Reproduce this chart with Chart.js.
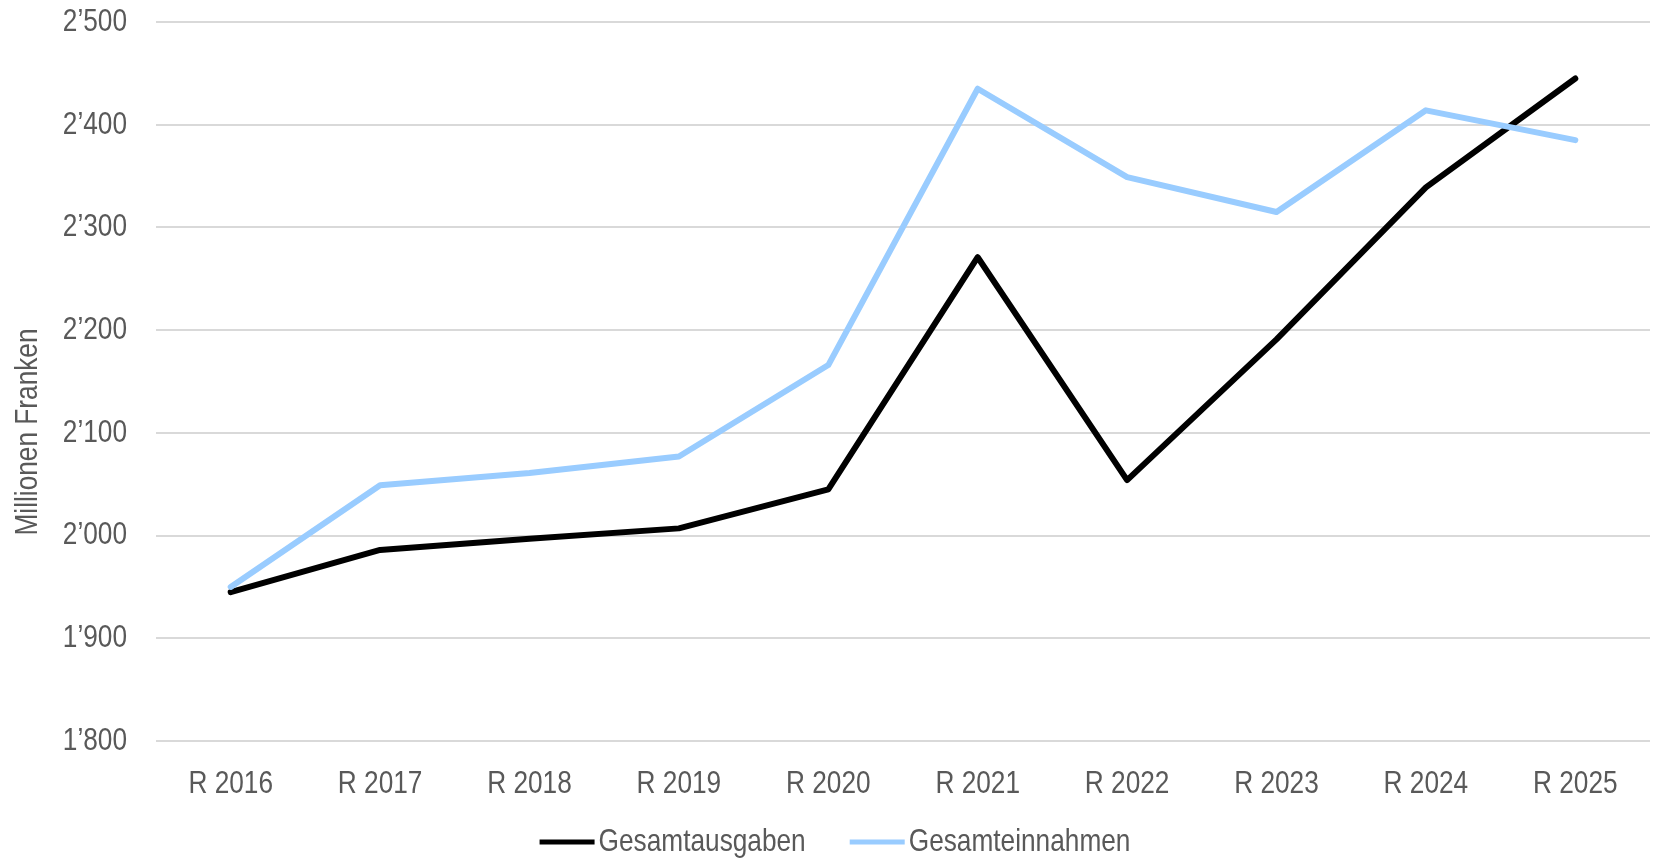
<!DOCTYPE html>
<html>
<head>
<meta charset="utf-8">
<script src="https://cdn.jsdelivr.net/npm/chart.js@4/dist/chart.umd.min.js"></script>
<style>
  html, body { margin: 0; padding: 0; background: #ffffff; }
  #wrap { width: 1653px; height: 859px; }
</style>
</head>
<body>
<div id="wrap"><canvas id="finanzen"></canvas></div>
<script>
var jahre = ['R 2016', 'R 2017', 'R 2018', 'R 2019', 'R 2020', 'R 2021', 'R 2022', 'R 2023', 'R 2024', 'R 2025'];
var gesamtausgaben = [1945, 1986, 1997, 2007, 2045, 2271, 2054, 2191, 2339, 2445];
var gesamteinnahmen = [1950, 2049, 2061, 2077, 2166, 2435, 2349, 2315, 2414, 2385];
var yMin = 1800;
var yMax = 2500;
var yStep = 100;
var yTitel = 'Millionen Franken';

var FONT = "'Liberation Sans', Arial, sans-serif";
var FONT_SIZE = 32;
var SCHMAL = 0.82;   // Arial Narrow fehlt -> Text horizontal stauchen
var GRAU = '#595959';

function formatTausend(v) {
    var s = String(Math.round(v));
    return s.replace(/\B(?=(\d{3})+(?!\d))/g, '\u2019');
}

function schmaleSchrift(ctx) {
    var fill = ctx.fillText;
    var measure = ctx.measureText;
    ctx.fillText = function (t, x, y) {
        this.save();
        this.translate(x, y);
        this.scale(SCHMAL, 1);
        fill.call(this, t, 0, 0);
        this.restore();
    };
    ctx.measureText = function (t) {
        var m = measure.call(this, t);
        return {
            width: m.width * SCHMAL,
            actualBoundingBoxAscent: m.actualBoundingBoxAscent,
            actualBoundingBoxDescent: m.actualBoundingBoxDescent,
            actualBoundingBoxLeft: m.actualBoundingBoxLeft * SCHMAL,
            actualBoundingBoxRight: m.actualBoundingBoxRight * SCHMAL
        };
    };
}

// Achsentitel und Legende von Hand zeichnen (wie im Original platziert)
var beschriftung = {
    id: 'beschriftung',
    afterDraw: function (chart) {
        var ctx = chart.ctx;
        ctx.save();
        ctx.fillStyle = GRAU;
        ctx.font = FONT_SIZE + 'px ' + FONT;

        // y-Titel
        ctx.save();
        ctx.translate(28, 432);
        ctx.rotate(-Math.PI / 2);
        ctx.textAlign = 'center';
        ctx.textBaseline = 'middle';
        ctx.fillText(yTitel, 0, 0);
        ctx.restore();

        // Legende
        var items = chart.data.datasets.map(function (ds) {
            return { text: ds.label, color: ds.borderColor, w: ctx.measureText(ds.label).width };
        });
        var sampleW = 55, gap = 4, itemGap = 44;
        var total = 0;
        items.forEach(function (it, i) {
            total += sampleW + gap + it.w + (i > 0 ? itemGap : 0);
        });
        var x = 835 - total / 2;
        var y = 842;
        ctx.textAlign = 'left';
        ctx.textBaseline = 'middle';
        items.forEach(function (it) {
            ctx.strokeStyle = it.color;
            ctx.lineWidth = 5;
            ctx.lineCap = 'butt';
            ctx.beginPath();
            ctx.moveTo(x, y);
            ctx.lineTo(x + sampleW, y);
            ctx.stroke();
            x += sampleW + gap;
            ctx.fillStyle = GRAU;
            ctx.fillText(it.text, x, y);
            x += it.w + itemGap;
        });
        ctx.restore();
    }
};

var canvas = document.getElementById('finanzen');
schmaleSchrift(canvas.getContext('2d'));

new Chart(canvas, {
    type: 'line',
    data: {
        labels: jahre,
        datasets: [
            {
                label: 'Gesamtausgaben',
                data: gesamtausgaben,
                borderColor: '#000000',
                backgroundColor: '#000000',
                borderWidth: 6,
                pointRadius: 0,
                borderCapStyle: 'round',
                borderJoinStyle: 'round',
                tension: 0,
                order: 1
            },
            {
                label: 'Gesamteinnahmen',
                data: gesamteinnahmen,
                borderColor: '#99CCFF',
                backgroundColor: '#99CCFF',
                borderWidth: 6,
                pointRadius: 0,
                borderCapStyle: 'round',
                borderJoinStyle: 'round',
                tension: 0,
                order: 0
            }
        ]
    },
    options: {
        responsive: true,
        maintainAspectRatio: false,
        animation: false,
        layout: {
            padding: { top: 22, right: 3, bottom: 48, left: 0 }
        },
        plugins: {
            legend: { display: false },
            tooltip: { enabled: false }
        },
        scales: {
            x: {
                offset: true,
                grid: { display: false, drawTicks: false },
                border: { display: false },
                ticks: {
                    color: GRAU,
                    font: { family: FONT, size: FONT_SIZE },
                    padding: 24,
                    autoSkip: false,
                    maxRotation: 0
                },
                afterFit: function (scale) {
                    scale.height = 70;
                    scale.paddingLeft = 0;
                    scale.paddingRight = 0;
                }
            },
            y: {
                min: yMin,
                max: yMax,
                grid: { color: '#D9D9D9', lineWidth: 2, drawTicks: false },
                border: { display: false },
                ticks: {
                    stepSize: yStep,
                    color: GRAU,
                    font: { family: FONT, size: FONT_SIZE },
                    padding: 29,
                    callback: function (v) { return formatTausend(v); }
                },
                afterFit: function (scale) {
                    scale.width = 156;
                    scale.paddingTop = 0;
                    scale.paddingBottom = 0;
                }
            }
        }
    },
    plugins: [beschriftung]
});
</script>
</body>
</html>
